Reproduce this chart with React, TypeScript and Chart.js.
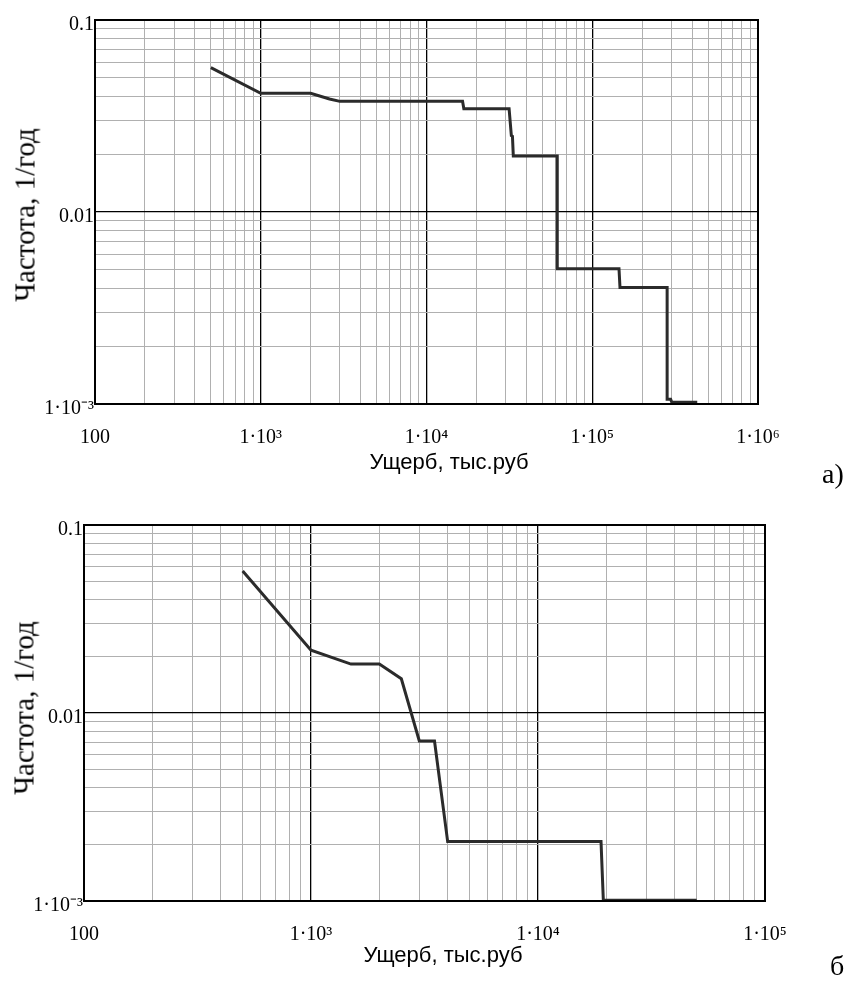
import React, { useEffect, useRef } from "react";
import { Chart, registerables } from "chart.js";

Chart.register(...registerables);

// ---- Data: panel a) ----
const damageA = [500, 1000, 2000, 2600, 3000, 16500, 16800, 31500, 32500, 33000, 33400, 61500, 61500, 145000, 147000, 283000, 283000, 297000, 302000, 430000];
const freqA = [0.0565, 0.0415, 0.0415, 0.0388, 0.0377, 0.0377, 0.0345, 0.0345, 0.025, 0.0248, 0.0196, 0.0196, 0.00507, 0.00507, 0.00404, 0.00404, 0.00106, 0.00106, 0.00102, 0.00102];

// ---- Data: panel б) ----
const damageB = [500, 1000, 1500, 2000, 2500, 3000, 3500, 4000, 18950, 19400, 50000];
const freqB = [0.0569, 0.0216, 0.0182, 0.0182, 0.0152, 0.0071, 0.0071, 0.00207, 0.00207, 0.00101, 0.00101];

// ---- Tick labels ----
const xTicksA = [100, 1000, 10000, 100000, 1000000];
const xLabelsA = ["100", "1·10³", "1·10⁴", "1·10⁵", "1·10⁶"];
const xTicksB = [100, 1000, 10000, 100000];
const xLabelsB = ["100", "1·10³", "1·10⁴", "1·10⁵"];
const yTicks = [0.001, 0.01, 0.1];
const yLabels = ["1·10⁻³", "0.01", "0.1"];

const yTitle = "Частота, 1/год";
const xTitle = "Ущерб, тыс.руб";

const SERIF = "'Liberation Serif', 'Times New Roman', serif";
const SANS = "'Liberation Sans', Arial, sans-serif";

function gridValues(min: number, max: number): number[] {
  const out: number[] = [];
  const e0 = Math.floor(Math.log10(min));
  const e1 = Math.ceil(Math.log10(max));
  for (let e = e0; e <= e1; e++) {
    for (let m = 1; m <= 9; m++) {
      const v = m * Math.pow(10, e);
      if (v >= min * 0.999 && v <= max * 1.001) out.push(v);
    }
  }
  return out;
}

function isMajor(v: number) {
  const l = Math.log10(v);
  return Math.abs(l - Math.round(l)) < 1e-6;
}

function labelFor(v: number, ticks: number[], labels: string[]) {
  for (let i = 0; i < ticks.length; i++) {
    if (Math.abs(ticks[i] - v) / ticks[i] < 1e-6) return labels[i];
  }
  return "";
}

const framePlugin = {
  id: "frame",
  afterDraw(chart: any) {
    const { ctx, chartArea } = chart;
    ctx.save();
    ctx.strokeStyle = "#000";
    ctx.lineWidth = 2;
    ctx.strokeRect(chartArea.left, chartArea.top, chartArea.right - chartArea.left, chartArea.bottom - chartArea.top);
    ctx.restore();
  },
};

type PanelProps = {
  top: number;
  height: number;
  plotLeft: number;
  plotRight: number;
  plotTop: number;
  plotBottom: number;
  xs: number[];
  ys: number[];
  xMin: number;
  xMax: number;
  xTicks: number[];
  xLabels: string[];
};

function Panel(p: PanelProps) {
  const ref = useRef<HTMLCanvasElement | null>(null);
  useEffect(() => {
    if (!ref.current) return;
    const W = 849;
    const xGrid = gridValues(p.xMin, p.xMax);
    const yGrid = gridValues(0.001, 0.1);
    const gridColor = (c: any) => (c.tick && isMajor(c.tick.value) ? "#000" : "#b0b0b0");
    const gridWidth = (c: any) => (c.tick && isMajor(c.tick.value) ? 1.3 : 1);
    const chart = new Chart(ref.current, {
      type: "line",
      data: {
        datasets: [
          {
            data: p.xs.map((x, i) => ({ x, y: p.ys[i] })),
            borderColor: "#2b2b2b",
            borderWidth: 3,
            pointRadius: 0,
            tension: 0,
            fill: false,
          },
        ],
      },
      options: {
        responsive: false,
        animation: false,
        events: [],
        layout: { padding: { left: 0, top: p.plotTop, right: W - p.plotRight, bottom: 0 } },
        plugins: { legend: { display: false }, tooltip: { enabled: false } },
        scales: {
          x: {
            type: "logarithmic",
            min: p.xMin,
            max: p.xMax,
            afterBuildTicks: (s: any) => {
              s.ticks = xGrid.map((v) => ({ value: v }));
            },
            afterFit: (s: any) => {
              s.height = p.height - p.plotBottom;
            },
            ticks: {
              autoSkip: false,
              maxRotation: 0,
              minRotation: 0,
              padding: 22,
              color: "#000",
              font: { family: SERIF, size: 20 },
              callback: (v: any) => labelFor(Number(v), p.xTicks, p.xLabels),
            },
            grid: { color: gridColor, lineWidth: gridWidth, drawTicks: false },
            border: { display: true, color: "#000", width: 2 },
          },
          y: {
            type: "logarithmic",
            min: 0.001,
            max: 0.1,
            afterBuildTicks: (s: any) => {
              s.ticks = yGrid.map((v) => ({ value: v }));
            },
            afterFit: (s: any) => {
              s.width = p.plotLeft;
            },
            ticks: {
              autoSkip: false,
              padding: 1,
              labelOffset: 5,
              color: "#000",
              font: { family: SERIF, size: 20 },
              callback: (v: any) => labelFor(Number(v), yTicks, yLabels),
            },
            grid: { color: gridColor, lineWidth: gridWidth, drawTicks: false },
            border: { display: true, color: "#000", width: 2 },
          },
        },
      } as any,
      plugins: [framePlugin],
    });
    return () => chart.destroy();
  }, []);
  return (
    <canvas
      ref={ref}
      width={849}
      height={p.height}
      style={{ position: "absolute", left: 0, top: p.top, width: 849, height: p.height, display: "block" }}
    />
  );
}

const centered = (x: number, y: number, extra: React.CSSProperties = {}): React.CSSProperties => ({
  position: "absolute",
  left: x,
  top: y,
  transform: "translate(-50%, -50%)",
  whiteSpace: "nowrap",
  lineHeight: 1,
  color: "#000",
  ...extra,
});

export default function App() {
  useEffect(() => {
    document.body.style.margin = "0";
    document.body.style.background = "#fff";
  }, []);
  return (
    <div style={{ position: "absolute", left: 0, top: 0, width: 849, height: 981, background: "#fff", overflow: "hidden" }}>
      <Panel
        top={0}
        height={500}
        plotLeft={95}
        plotRight={758}
        plotTop={20}
        plotBottom={404}
        xs={damageA}
        ys={freqA}
        xMin={100}
        xMax={1000000}
        xTicks={xTicksA}
        xLabels={xLabelsA}
      />
      <Panel
        top={500}
        height={481}
        plotLeft={84}
        plotRight={765}
        plotTop={25}
        plotBottom={401}
        xs={damageB}
        ys={freqB}
        xMin={100}
        xMax={100000}
        xTicks={xTicksB}
        xLabels={xLabelsB}
      />
      <div style={centered(25, 215, { fontFamily: SERIF, fontSize: 29, transform: "translate(-50%, -50%) rotate(-90deg)" })}>{yTitle}</div>
      <div style={centered(24, 708, { fontFamily: SERIF, fontSize: 29, transform: "translate(-50%, -50%) rotate(-90deg)" })}>{yTitle}</div>
      <div style={centered(449, 462, { fontFamily: SANS, fontSize: 22 })}>{xTitle}</div>
      <div style={centered(443, 955, { fontFamily: SANS, fontSize: 22 })}>{xTitle}</div>
      <div style={centered(833, 474, { fontFamily: SERIF, fontSize: 28 })}>а)</div>
      <div style={{ position: "absolute", left: 830, top: 952, fontFamily: SERIF, fontSize: 28, lineHeight: 1, color: "#000" }}>б</div>
    </div>
  );
}
